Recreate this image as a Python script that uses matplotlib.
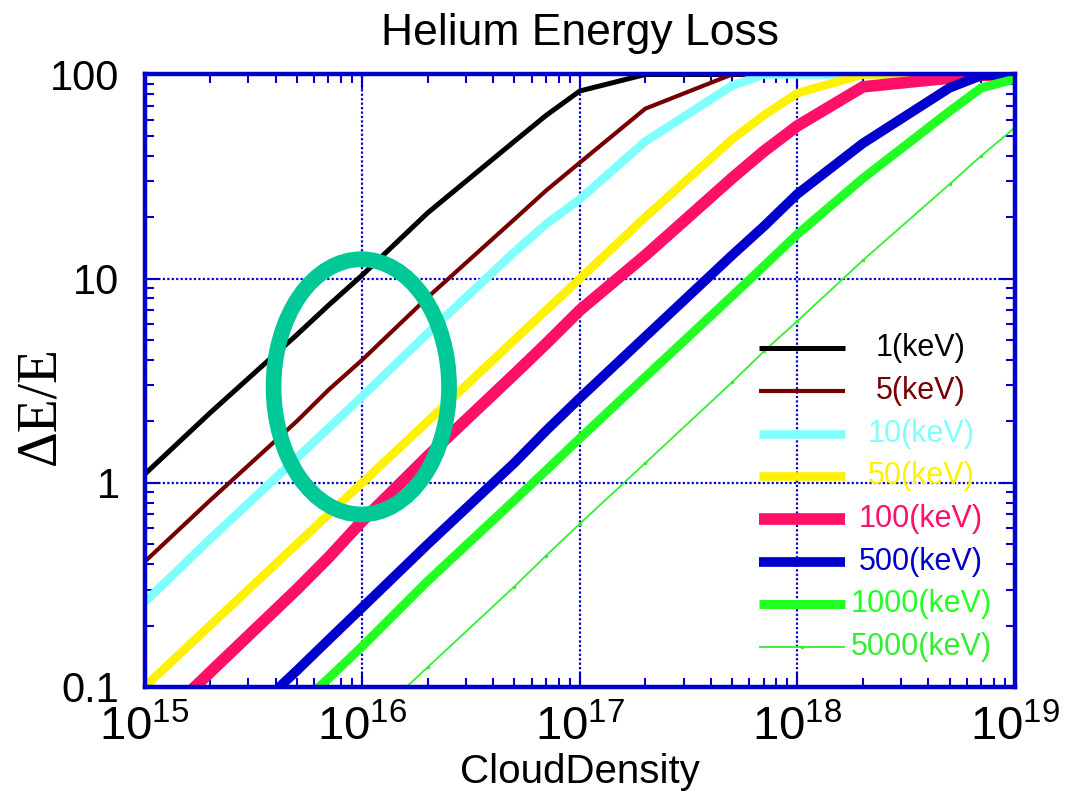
import matplotlib
matplotlib.use('Agg')
import matplotlib.pyplot as plt
from matplotlib.patches import Ellipse

plt.rcParams['font.family'] = ['Liberation Sans', 'DejaVu Sans']
plt.rcParams['mathtext.fontset'] = 'custom'
plt.rcParams['mathtext.rm'] = 'Liberation Sans'

# cloud density sample points (1, 2, 5, 7 per decade)
density = [1e15, 2e15, 5e15, 7e15, 1e16, 2e16, 5e16, 7e16, 1e17,
           2e17, 5e17, 7e17, 1e18, 2e18, 5e18, 7e18, 1e19]

loss_1kev = [1.1, 2.2, 5.3, 7.4, 10.4, 21, 47, 63, 83,
             100, 100, 100, 100, 100, 100, 100, 100]
loss_5kev = [0.41, 0.82, 2.0, 2.85, 4.0, 8.1, 19.5, 27, 37,
             68, 100, 100, 100, 100, 100, 100, 100]
loss_10kev = [0.26, 0.53, 1.32, 1.85, 2.65, 5.4, 13.5, 18.5, 24.5,
              47, 88, 100, 100, 100, 100, 100, 100]
loss_50kev = [0.1, 0.2, 0.5, 0.7, 1.0, 2.0, 5.0, 7.0, 10,
              20, 48, 63, 81, 100, 100, 100, 100]
loss_100kev = [0.058, 0.118, 0.3, 0.43, 0.65, 1.35, 3.4, 4.8, 7.0,
               13, 31, 42, 56, 87, 96, 99, 100]
loss_500kev = [0.024, 0.048, 0.12, 0.17, 0.245, 0.5, 1.25, 1.8, 2.6,
               5.2, 13, 18, 26, 46, 86, 99, 100]
loss_1000kev = [0.016, 0.032, 0.08, 0.11, 0.158, 0.33, 0.82, 1.15, 1.65,
                3.3, 8.2, 11.5, 16.5, 31, 66, 86, 95]
loss_5000kev = [0.0063, 0.0126, 0.031, 0.044, 0.063, 0.125, 0.31, 0.44, 0.63,
                1.25, 3.1, 4.4, 6.2, 12.3, 29, 40, 55]

labels = ['1(keV)', '5(keV)', '10(keV)', '50(keV)', '100(keV)',
          '500(keV)', '1000(keV)', '5000(keV)']
colors = ['#000000', '#750000', '#80ffff', '#fff200', '#ff1068',
          '#0000cc', '#22ff22', '#33ee33']
widths = [3.6, 3.0, 6.2, 6.2, 8.4, 7.0, 6.5, 1.3]
series = [loss_1kev, loss_5kev, loss_10kev, loss_50kev, loss_100kev,
          loss_500kev, loss_1000kev, loss_5000kev]

xticks = [1e15, 1e16, 1e17, 1e18, 1e19]
xtick_labels = [r'$\mathregular{10^{15}}$', r'$\mathregular{10^{16}}$',
                r'$\mathregular{10^{17}}$', r'$\mathregular{10^{18}}$',
                r'$\mathregular{10^{19}}$']
yticks = [0.1, 1, 10, 100]
ytick_labels = ['0.1', '1', '10', '100']

frame = '#0000cc'

fig = plt.figure(figsize=(10.66, 7.99), dpi=100)
ax = fig.add_axes([0.1356, 0.1402, 0.8166, 0.7666])
ax.set_xscale('log')
ax.set_yscale('log')
ax.set_xlim(1e15, 1e19)
ax.set_ylim(0.1, 100)

for vals, col, lw in zip(series, colors, widths):
    if lw < 2:
        ax.plot(density, vals, color=col, lw=lw, marker='s', ms=1.6,
                solid_joinstyle='miter')
    else:
        ax.plot(density, vals, color=col, lw=lw, solid_joinstyle='miter',
                solid_capstyle='butt')

# legend drawn by hand: short line sample plus coloured, centred label
ly = 0.553
for lab, col, lw in zip(labels, colors, widths):
    ax.plot([0.706, 0.805], [ly, ly], transform=ax.transAxes, color=col,
            lw=lw, solid_capstyle='butt')
    if lw < 2:
        ax.plot([0.7555], [ly], transform=ax.transAxes, color=col,
                marker='s', ms=1.6)
    ax.text(0.892, ly, lab, transform=ax.transAxes, color=col,
            fontsize=22, ha='center', va='center')
    ly -= 0.0697

# highlight ring
ring = Ellipse((0.249, 0.49), 0.2016, 0.4167, transform=ax.transAxes,
               fill=False, edgecolor='#00c896', lw=11.3, zorder=5)
ax.add_patch(ring)

ax.grid(True, which='major', color=frame, ls=(0, (1, 1)), lw=1.6)
for sp in ax.spines.values():
    sp.set_color(frame)
    sp.set_linewidth(3.2)

ax.set_xticks(xticks)
ax.set_xticklabels(xtick_labels)
ax.set_yticks(yticks)
ax.set_yticklabels(ytick_labels)
ax.tick_params(which='both', direction='in', top=True, right=True,
               color=frame)
ax.tick_params(which='major', length=11, width=1.5)
ax.tick_params(which='minor', length=6.5, width=1.5)
ax.tick_params(axis='x', which='major', labelsize=34, pad=13)
ax.tick_params(axis='y', which='major', labelsize=30, pad=18)

ax.set_title('Helium Energy Loss', fontsize=32, pad=21)
ax.set_xlabel('CloudDensity', fontsize=29, labelpad=2)
ax.set_ylabel('ΔE/E', fontsize=40,
              family=['Liberation Serif', 'DejaVu Serif'])
ax.yaxis.set_label_coords(-0.09, 0.46)

fig.savefig('out.png', dpi=100)
